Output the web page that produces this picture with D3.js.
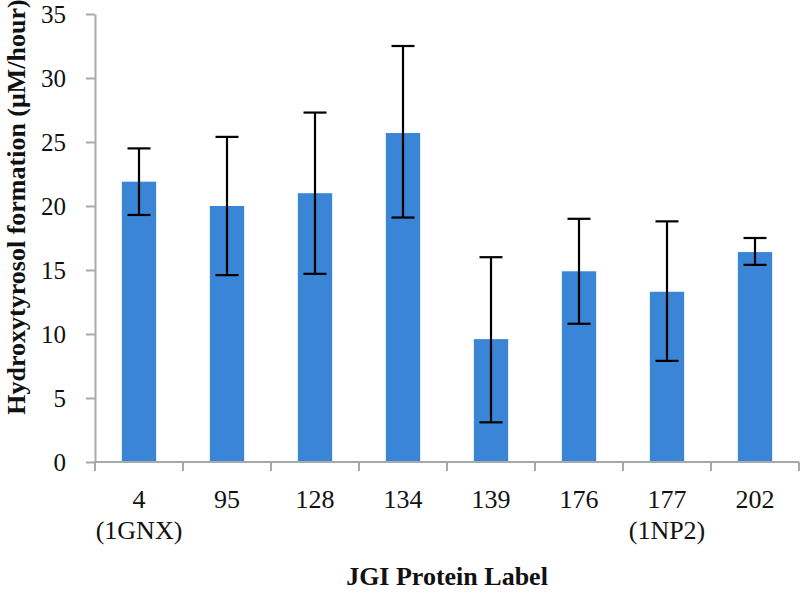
<!DOCTYPE html>
<html>
<head>
<meta charset="utf-8">
<script src="https://cdn.jsdelivr.net/npm/d3@7"></script>
<style>
  html, body { margin: 0; padding: 0; background: #fff; }
  svg { display: block; }
</style>
</head>
<body>
<svg id="chart" width="800" height="592"></svg>
<script>
// ---- Data ----
const categories = ["4", "95", "128", "134", "139", "176", "177", "202"];
const subLabels  = ["(1GNX)", "", "", "", "", "", "(1NP2)", ""];
const values     = [21.9, 20.0, 21.0, 25.7, 9.6, 14.9, 13.3, 16.4];
const errLow     = [19.3, 14.6, 14.7, 19.1, 3.1, 10.8, 7.9, 15.4];
const errHigh    = [24.5, 25.4, 27.3, 32.5, 16.0, 19.0, 18.8, 17.5];
const yTicks     = [0, 5, 10, 15, 20, 25, 30, 35];
const yTitle = "Hydroxytyrosol formation (μM/hour)";
const xTitle = "JGI Protein Label";

const rows = categories.map((c, i) => ({
  cat: c, sub: subLabels[i], v: values[i], lo: errLow[i], hi: errHigh[i]
}));

// ---- Layout ----
const svg = d3.select("#chart");
const mLeft = 95, mRight = 799, mTop = 14, mBottom = 462;
const axisColor = "#a5abab";
const barColor = "#3b85d6";
const font = "'Liberation Serif', 'Times New Roman', serif";

const x = d3.scaleBand().domain(categories).range([mLeft, mRight]).paddingInner(0.61).paddingOuter(0.305);
const y = d3.scaleLinear().domain([0, 35]).range([mBottom, mTop]);

// Bars
svg.append("g").selectAll("rect").data(rows).join("rect")
  .attr("x", d => x(d.cat))
  .attr("y", d => y(d.v))
  .attr("width", x.bandwidth())
  .attr("height", d => y(0) - y(d.v))
  .attr("fill", barColor);

// Error bars
const cap = 11.5;
const eg = svg.append("g").attr("stroke", "#000").attr("stroke-width", 2.2).attr("fill", "none");
rows.forEach(d => {
  const cx = x(d.cat) + x.bandwidth() / 2;
  eg.append("line").attr("x1", cx).attr("x2", cx).attr("y1", y(d.lo)).attr("y2", y(d.hi));
  eg.append("line").attr("x1", cx - cap).attr("x2", cx + cap).attr("y1", y(d.lo)).attr("y2", y(d.lo));
  eg.append("line").attr("x1", cx - cap).attr("x2", cx + cap).attr("y1", y(d.hi)).attr("y2", y(d.hi));
});

// Y axis
const yAxis = svg.append("g").attr("transform", `translate(${mLeft},0)`)
  .call(d3.axisLeft(y).tickValues(yTicks).tickSize(9).tickPadding(20).tickSizeOuter(0));
yAxis.select(".domain").attr("stroke", axisColor).attr("stroke-width", 2);
yAxis.selectAll(".tick line").attr("stroke", axisColor).attr("stroke-width", 2);
yAxis.selectAll(".tick text").attr("font-family", font).attr("font-size", 25).attr("fill", "#111");

// X axis with category-boundary ticks
const xAxisG = svg.append("g");
xAxisG.append("line").attr("x1", mLeft - 1).attr("x2", mRight).attr("y1", mBottom).attr("y2", mBottom)
  .attr("stroke", axisColor).attr("stroke-width", 2);
d3.range(categories.length + 1).forEach(i => {
  const bx = mLeft + i * x.step();
  xAxisG.append("line").attr("x1", bx).attr("x2", bx).attr("y1", mBottom).attr("y2", mBottom + 9)
    .attr("stroke", axisColor).attr("stroke-width", 2);
});

// X labels
const xl = svg.append("g").attr("font-family", font).attr("font-size", 26).attr("fill", "#111").attr("text-anchor", "middle");
rows.forEach(d => {
  const cx = x(d.cat) + x.bandwidth() / 2;
  xl.append("text").attr("x", cx).attr("y", 508).text(d.cat);
  if (d.sub) xl.append("text").attr("x", cx).attr("y", 539).text(d.sub);
});

// Titles
svg.append("text").attr("x", (mLeft + mRight) / 2).attr("y", 585)
  .attr("text-anchor", "middle").attr("font-family", font).attr("font-weight", "bold")
  .attr("font-size", 26).attr("fill", "#111").text(xTitle);

svg.append("text").attr("transform", `translate(25,207) rotate(-90)`)
  .attr("text-anchor", "middle").attr("font-family", font).attr("font-weight", "bold")
  .attr("font-size", 26).attr("fill", "#111").text(yTitle);
</script>
</body>
</html>
